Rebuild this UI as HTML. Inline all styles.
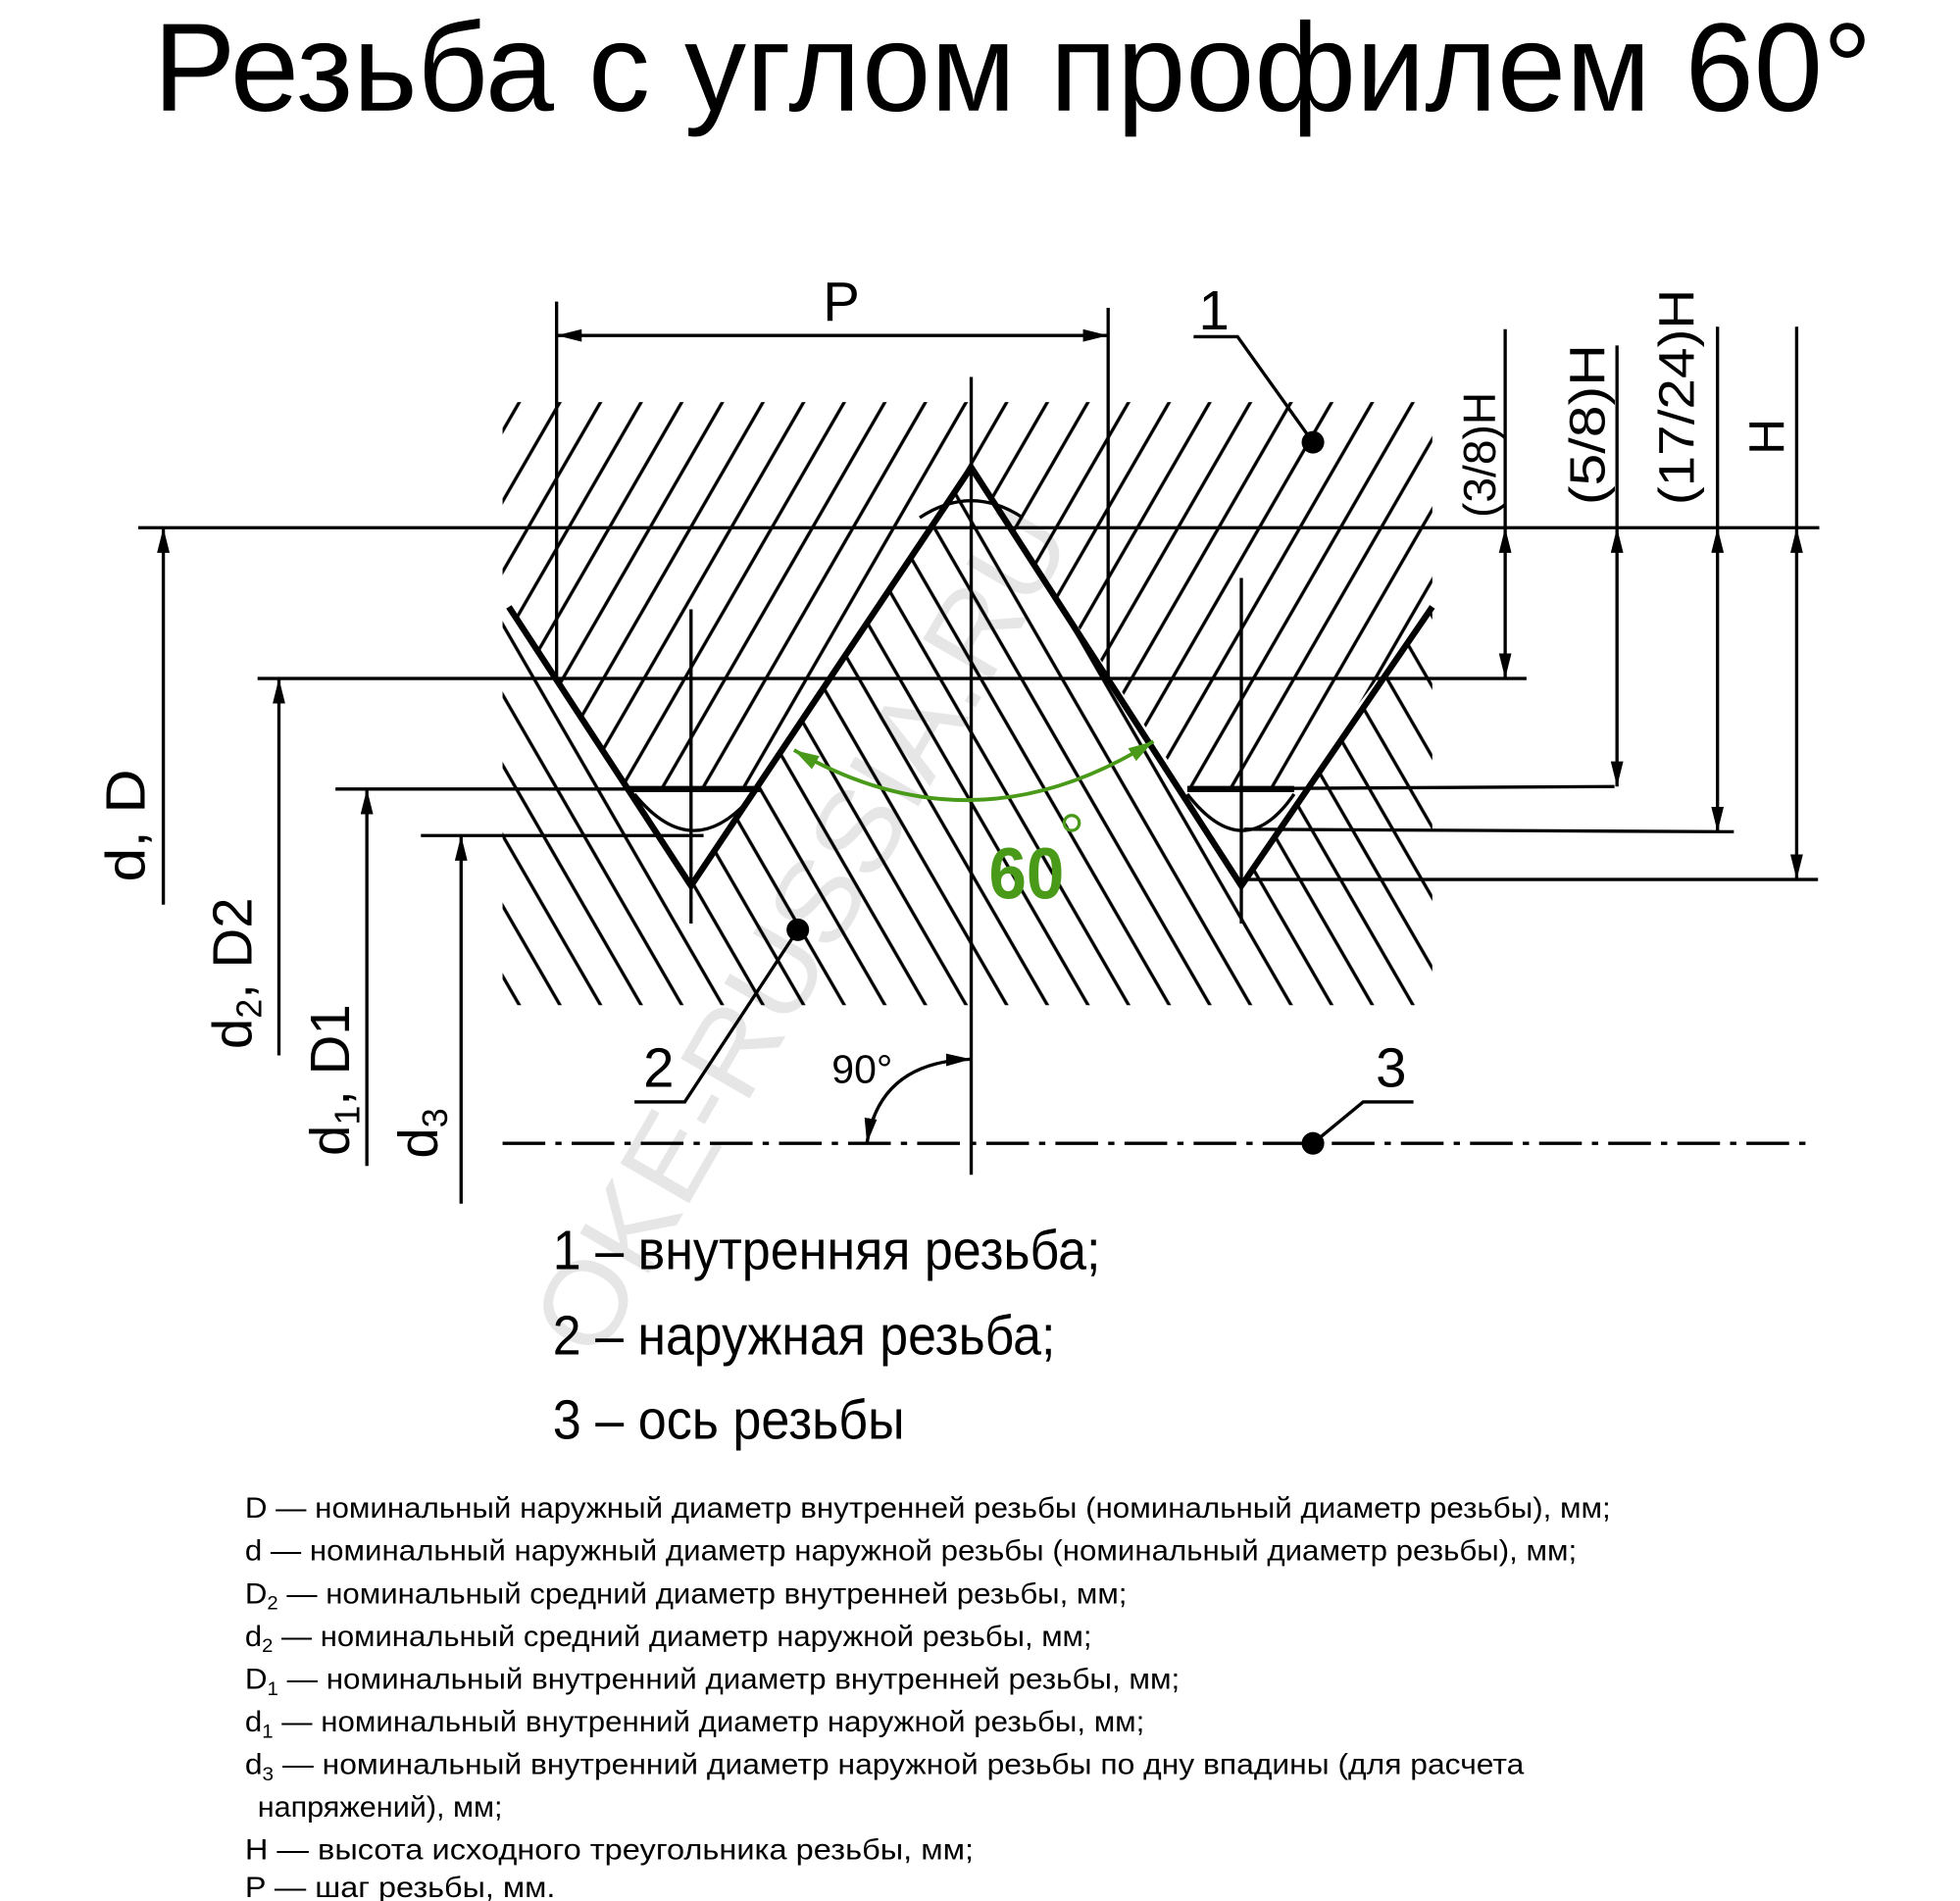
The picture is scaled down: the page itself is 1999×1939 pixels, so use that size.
<!DOCTYPE html>
<html><head><meta charset="utf-8"><style>
html,body{margin:0;padding:0;background:#fff}
svg{display:block}
text{font-family:"Liberation Sans",sans-serif;fill:#000}
</style></head><body>
<svg width="1999" height="1939" viewBox="0 0 1560 1513" preserveAspectRatio="none" xmlns="http://www.w3.org/2000/svg">
<defs>
<pattern id="hu" width="28" height="28" patternUnits="userSpaceOnUse" patternTransform="rotate(30)"><line x1="14" y1="0" x2="14" y2="28" stroke="#000" stroke-width="2.6"/></pattern>
<pattern id="hl" width="28" height="28" patternUnits="userSpaceOnUse" patternTransform="rotate(-30)"><line x1="14" y1="0" x2="14" y2="28" stroke="#000" stroke-width="2.6"/></pattern>
<marker id="a" viewBox="0 0 20 10" refX="20" refY="5" markerWidth="20" markerHeight="10" markerUnits="userSpaceOnUse" orient="auto-start-reverse"><path d="M0,0 L20,5 L0,10 Z" fill="#000"/></marker>
<marker id="g" viewBox="0 0 20 12" refX="20" refY="6" markerWidth="20" markerHeight="12" markerUnits="userSpaceOnUse" orient="auto-start-reverse"><path d="M0,0 L20,6 L0,12 Z" fill="#4a9a1a"/></marker>
</defs>

<text x="122" y="88" font-size="100" textLength="1368" lengthAdjust="spacingAndGlyphs">Резьба с углом  профилем 60°</text>

<text x="0" y="0" font-size="92" style="fill:#e6e6e6" transform="translate(475,1085) rotate(-60)" textLength="760" lengthAdjust="spacingAndGlyphs">OKE-RUSSIA.RU</text>

<polygon points="400,320 1140,320 1140,483 1030,628 945,628 773,372 605,628 500,628 405,483 400,483" fill="url(#hu)"/>
<polygon points="400,483 405,483 550,705 773,372 988,705 1140,483 1140,800 400,800" fill="url(#hl)"/>

<g stroke="#000" stroke-width="2.6" fill="none">
<line x1="110" y1="420" x2="1448" y2="420"/>
<line x1="205" y1="540" x2="1215" y2="540"/>
<line x1="267" y1="628" x2="605" y2="628"/>
<line x1="945" y1="628" x2="1285" y2="626"/>
<line x1="335" y1="665" x2="560" y2="665"/>
<line x1="990" y1="660" x2="1380" y2="662"/>
<line x1="990" y1="700" x2="1447" y2="700"/>
<line x1="443" y1="240" x2="443" y2="540"/>
<line x1="882" y1="245" x2="882" y2="540"/>
<line x1="773" y1="300" x2="773" y2="935"/>
<line x1="550" y1="485" x2="550" y2="735"/>
<line x1="988" y1="460" x2="988" y2="735"/>
<path d="M732,412 Q773,385 814,412"/>
<path d="M505,632 Q552,690 600,632"/>
<path d="M945,632 Q990,690 1030,632"/>
<line x1="443" y1="267" x2="882" y2="267" marker-start="url(#a)" marker-end="url(#a)"/>
<polyline points="950,268 985,268 1045,352"/>
<polyline points="505,877 545,877 635,740"/>
<polyline points="1125,877 1085,877 1045,910"/>
<line x1="400" y1="910" x2="1445" y2="910" stroke-dasharray="34,8,5,8"/>
<path d="M690,910 Q700,845 773,843" marker-start="url(#a)" marker-end="url(#a)"/>
<line x1="1198" y1="262" x2="1198" y2="420"/>
<line x1="1198" y1="420" x2="1198" y2="540" marker-start="url(#a)" marker-end="url(#a)"/>
<line x1="1287" y1="275" x2="1287" y2="420"/>
<line x1="1287" y1="420" x2="1287" y2="626" marker-start="url(#a)" marker-end="url(#a)"/>
<line x1="1367" y1="260" x2="1367" y2="420"/>
<line x1="1367" y1="420" x2="1367" y2="662" marker-start="url(#a)" marker-end="url(#a)"/>
<line x1="1430" y1="260" x2="1430" y2="420"/>
<line x1="1430" y1="420" x2="1430" y2="700" marker-start="url(#a)" marker-end="url(#a)"/>
<line x1="130" y1="720" x2="130" y2="420" marker-end="url(#a)"/>
<line x1="222" y1="840" x2="222" y2="540" marker-end="url(#a)"/>
<line x1="292" y1="928" x2="292" y2="628" marker-end="url(#a)"/>
<line x1="367" y1="958" x2="367" y2="665" marker-end="url(#a)"/>
</g>

<g stroke="#000" stroke-width="5" fill="none">
<polyline points="405,483 550,705 773,372 988,705 1140,483"/>
<line x1="500" y1="628" x2="605" y2="628"/>
<line x1="945" y1="628" x2="1030" y2="628"/>
</g>

<circle cx="1045" cy="352" r="9"/>
<circle cx="635" cy="740" r="9"/>
<circle cx="1045" cy="910" r="9"/>

<path d="M632,597 Q775,680 918,590" stroke="#4a9a1a" stroke-width="3" fill="none" marker-start="url(#g)" marker-end="url(#g)"/>
<text x="787" y="715" font-size="58" font-weight="bold" style="fill:#4a9a1a" textLength="60" lengthAdjust="spacingAndGlyphs">60</text>
<circle cx="853" cy="655" r="6" fill="none" stroke="#4a9a1a" stroke-width="2.5"/>

<text x="655" y="255" font-size="44">P</text>
<text x="954" y="262" font-size="44">1</text>
<text x="512" y="865" font-size="44">2</text>
<text x="1095" y="865" font-size="44">3</text>
<text x="662" y="862" font-size="32">90°</text>

<text font-size="36" transform="translate(1190,412) rotate(-90)" textLength="100" lengthAdjust="spacingAndGlyphs">(3/8)H</text>
<text font-size="40" transform="translate(1277,402) rotate(-90)" textLength="128" lengthAdjust="spacingAndGlyphs">(5/8)H</text>
<text font-size="40" transform="translate(1348,402) rotate(-90)" textLength="172" lengthAdjust="spacingAndGlyphs">(17/24)H</text>
<text font-size="40" transform="translate(1420,362) rotate(-90)">H</text>
<text font-size="44" transform="translate(115,702) rotate(-90)" textLength="90" lengthAdjust="spacingAndGlyphs">d, D</text>
<text font-size="44" transform="translate(200,835) rotate(-90)">d<tspan font-size="28" dy="8">2</tspan><tspan dy="-8">, D2</tspan></text>
<text font-size="44" transform="translate(278,920) rotate(-90)">d<tspan font-size="28" dy="8">1</tspan><tspan dy="-8">, D1</tspan></text>
<text font-size="44" transform="translate(348,922) rotate(-90)">d<tspan font-size="28" dy="8">3</tspan></text>

<text x="440" y="1010" font-size="44" textLength="436" lengthAdjust="spacingAndGlyphs">1 – внутренняя резьба;</text>
<text x="440" y="1078" font-size="44" textLength="400" lengthAdjust="spacingAndGlyphs">2 – наружная резьба;</text>
<text x="440" y="1145" font-size="44" textLength="280" lengthAdjust="spacingAndGlyphs">3 – ось резьбы</text>

<g font-size="23">
<text x="195" y="1208" textLength="1087" lengthAdjust="spacingAndGlyphs">D — номинальный наружный диаметр внутренней резьбы (номинальный диаметр резьбы), мм;</text>
<text x="195" y="1242" textLength="1060" lengthAdjust="spacingAndGlyphs">d — номинальный наружный диаметр наружной резьбы (номинальный диаметр резьбы), мм;</text>
<text x="195" y="1276" textLength="702" lengthAdjust="spacingAndGlyphs">D<tspan font-size="15" dy="5">2</tspan><tspan dy="-5"> — номинальный средний диаметр внутренней резьбы, мм;</tspan></text>
<text x="195" y="1310" textLength="674" lengthAdjust="spacingAndGlyphs">d<tspan font-size="15" dy="5">2</tspan><tspan dy="-5"> — номинальный средний диаметр наружной резьбы, мм;</tspan></text>
<text x="195" y="1344" textLength="744" lengthAdjust="spacingAndGlyphs">D<tspan font-size="15" dy="5">1</tspan><tspan dy="-5"> — номинальный внутренний диаметр внутренней резьбы, мм;</tspan></text>
<text x="195" y="1378" textLength="716" lengthAdjust="spacingAndGlyphs">d<tspan font-size="15" dy="5">1</tspan><tspan dy="-5"> — номинальный внутренний диаметр наружной резьбы, мм;</tspan></text>
<text x="195" y="1412" textLength="1018" lengthAdjust="spacingAndGlyphs">d<tspan font-size="15" dy="5">3</tspan><tspan dy="-5"> — номинальный внутренний диаметр наружной резьбы по дну впадины (для расчета</tspan></text>
<text x="205" y="1446" textLength="195" lengthAdjust="spacingAndGlyphs">напряжений), мм;</text>
<text x="195" y="1480" textLength="580" lengthAdjust="spacingAndGlyphs">H — высота исходного треугольника резьбы, мм;</text>
<text x="195" y="1510" textLength="247" lengthAdjust="spacingAndGlyphs">P — шаг резьбы, мм.</text>
</g>
</svg>
</body></html>
